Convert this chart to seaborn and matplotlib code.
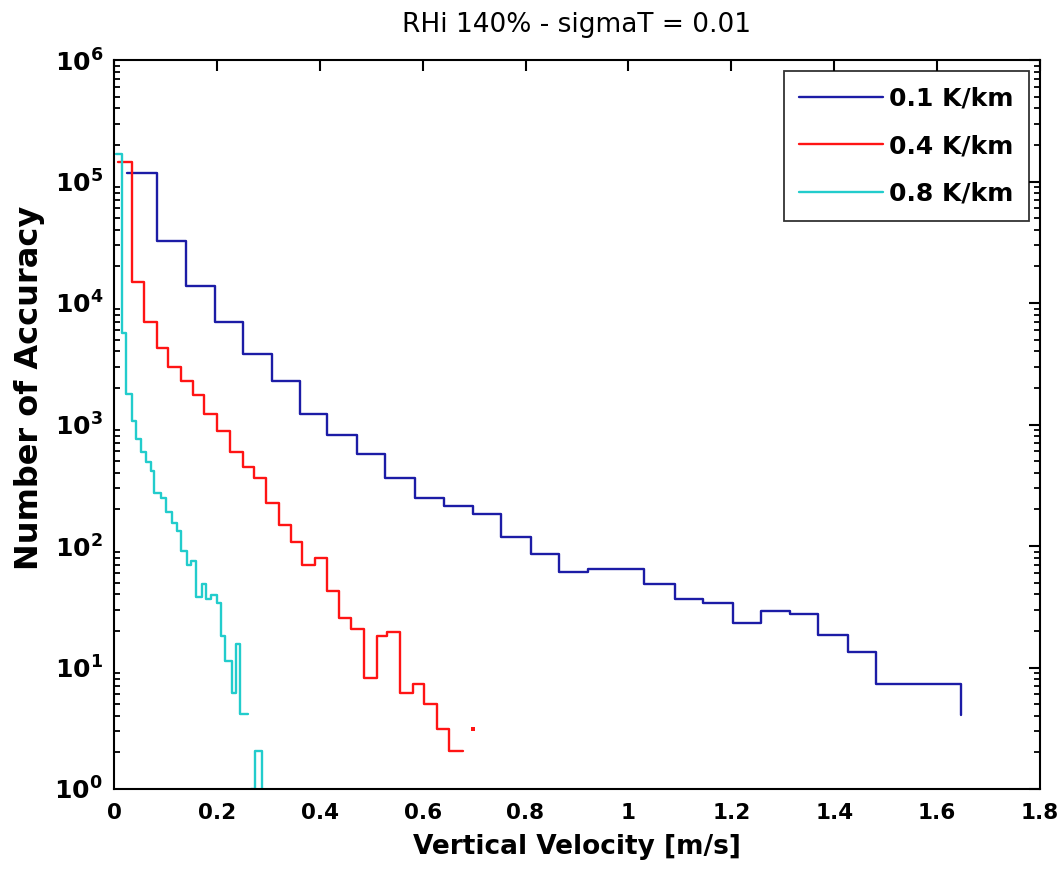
import numpy as np
import pandas as pd
import matplotlib
matplotlib.use("Agg")
import matplotlib.pyplot as plt
import matplotlib.ticker as mticker
import seaborn as sns

# ---------------- data ----------------
labels = ["0.1 K/km", "0.4 K/km", "0.8 K/km"]

x_01 = [0.025, 0.084, 0.139, 0.196, 0.250, 0.308, 0.362, 0.415, 0.473, 0.527,
        0.585, 0.641, 0.698, 0.752, 0.810, 0.865, 0.922, 1.031, 1.090, 1.144,
        1.203, 1.257, 1.314, 1.368, 1.426, 1.481, 1.647]
n_01 = [118000, 32600, 13800, 6980, 3800, 2270, 1220, 824, 572, 363,
        248, 215, 183, 118, 86, 61.4, 64.3, 48.6, 36.6, 33.7,
        23.4, 29.0, 27.5, 18.4, 13.3, 7.3, 4.1]

x_04 = [0.0084, 0.0344, 0.0589, 0.0842, 0.1055, 0.1297, 0.1541, 0.1759, 0.2002,
        0.2249, 0.2502, 0.2716, 0.2955, 0.3207, 0.3435, 0.3654, 0.3907, 0.4150,
        0.4370, 0.4607, 0.4860, 0.5107, 0.5313, 0.5559, 0.5806, 0.6026, 0.6273,
        0.6518, 0.6778, 0.6973]
n_04 = [144000, 15000, 6930, 4290, 2960, 2280, 1750, 1220, 885,
        590, 445, 363, 225, 149, 107, 69.8, 79.2, 42.9,
        25.4, 20.6, 8.24, 18.3, 19.5, 6.13, 7.27, 5.0, 3.10,
        2.07, np.nan, 3.1]

x_08 = [0.0039, 0.0150, 0.0225, 0.0350, 0.0428, 0.0519, 0.0622, 0.0713, 0.0783,
        0.0914, 0.1005, 0.1133, 0.1230, 0.1302, 0.1425, 0.1491, 0.1594, 0.1705,
        0.1788, 0.1882, 0.1996, 0.2074, 0.2158, 0.2288, 0.2366, 0.2449, 0.2599,
        0.2664, 0.2741, 0.2871]
n_08 = [168000, 5700, 1780, 1075, 755, 597, 494, 417, 275,
        247, 192, 156, 133, 91.4, 69.8, 75.7, 37.8, 48.7,
        36.3, 39.7, 33.9, 18.3, 11.4, 6.13, 15.6, 4.14, np.nan,
        1, 2.07, 1]

x_ticks = [0, 0.2, 0.4, 0.6, 0.8, 1.0, 1.2, 1.4, 1.6, 1.8]
x_ticklabels = ["0", "0.2", "0.4", "0.6", "0.8", "1", "1.2", "1.4", "1.6", "1.8"]
y_exponents = [0, 1, 2, 3, 4, 5, 6]
colors = ["#1c1ca6", "#ff1414", "#22cccc"]


def split_segments(xs, ys, name):
    """Break a stairs series at missing counts; keep the last level up to the gap."""
    rows, singles = [], []
    seg, seg_id = [], 0
    for xv, yv in zip(xs, ys):
        if np.isnan(yv):
            if seg:
                seg.append((xv, seg[-1][1]))
                for px, py in seg:
                    rows.append((name, f"{name}-{seg_id}", px, py))
                seg_id += 1
            seg = []
        else:
            seg.append((xv, yv))
    if seg:
        if len(seg) == 1:
            singles.append((name, seg[0][0], seg[0][1]))
        else:
            for px, py in seg:
                rows.append((name, f"{name}-{seg_id}", px, py))
    return rows, singles


all_rows, all_singles = [], []
for xs, ys, name in [(x_01, n_01, labels[0]), (x_04, n_04, labels[1]), (x_08, n_08, labels[2])]:
    r, s = split_segments(xs, ys, name)
    all_rows += r
    all_singles += s

df = pd.DataFrame(all_rows, columns=["series", "seg", "v", "n"])
df_single = pd.DataFrame(all_singles, columns=["series", "v", "n"])

# ---------------- style ----------------
sns.set_theme(style="white")
plt.rcParams["font.family"] = ["DejaVu Sans"]
plt.rcParams["mathtext.fontset"] = "dejavusans"
plt.rcParams["text.color"] = "black"
plt.rcParams["axes.labelcolor"] = "black"
plt.rcParams["xtick.color"] = "black"
plt.rcParams["ytick.color"] = "black"

fig = plt.figure(figsize=(10.64, 8.86), dpi=100)
ax = fig.add_axes([114 / 1064, 1 - 789 / 886, (1040 - 114) / 1064, (789 - 60) / 886])

palette = dict(zip(labels, colors))
sns.lineplot(data=df, x="v", y="n", hue="series", units="seg", estimator=None,
             sort=False, palette=palette, hue_order=labels, drawstyle="steps-post",
             linewidth=1.7, ax=ax)
if len(df_single):
    sns.scatterplot(data=df_single, x="v", y="n", hue="series", palette=palette,
                    hue_order=labels, s=5, linewidth=0, marker="s", legend=False, ax=ax)

ax.set_yscale("log")
ax.set_xlim(0, 1.8)
ax.set_ylim(1, 1e6)
ax.set_xticks(x_ticks)
ax.set_xticklabels(x_ticklabels)
ax.yaxis.set_major_locator(mticker.FixedLocator([10.0 ** e for e in y_exponents]))
ax.yaxis.set_major_formatter(mticker.FixedFormatter(
    [r"$\mathbf{10^{%d}}$" % e for e in y_exponents]))
ax.yaxis.set_minor_locator(mticker.FixedLocator(
    [m * 10.0 ** e for e in y_exponents[:-1] for m in range(2, 10)]))
ax.yaxis.set_minor_formatter(mticker.NullFormatter())

for sp in ax.spines.values():
    sp.set_color("black")
    sp.set_linewidth(1.5)

ax.tick_params(axis="both", which="major", direction="in", length=8, width=1.5,
               top=True, right=True, colors="black")
ax.tick_params(axis="y", which="minor", direction="in", length=4.5, width=1.3,
               left=True, right=True)
ax.tick_params(axis="x", which="major", pad=10, labelsize=15.5)
ax.tick_params(axis="y", which="major", pad=8, labelsize=18)
for lab in ax.get_xticklabels():
    lab.set_fontweight("bold")

ax.set_xlabel("Vertical Velocity [m/s]", fontsize=19, fontweight="bold", labelpad=8)
ax.set_ylabel("Number of Accuracy", fontsize=23, fontweight="bold")
ax.yaxis.set_label_coords(-0.075, 0.55)
ax.set_title("RHi 140% - sigmaT = 0.01", fontsize=19, pad=20)

leg = ax.legend(loc="upper right", fontsize=18, frameon=True, fancybox=False,
                handlelength=3.35, handletextpad=0.25, labelspacing=0.95,
                borderpad=0.6, borderaxespad=0.45, title=None)
leg.get_frame().set_edgecolor("black")
leg.get_frame().set_linewidth(1.3)
for t in leg.get_texts():
    t.set_fontweight("bold")
for h in leg.get_lines():
    h.set_linewidth(1.7)

fig.savefig("out.png", dpi=100)
